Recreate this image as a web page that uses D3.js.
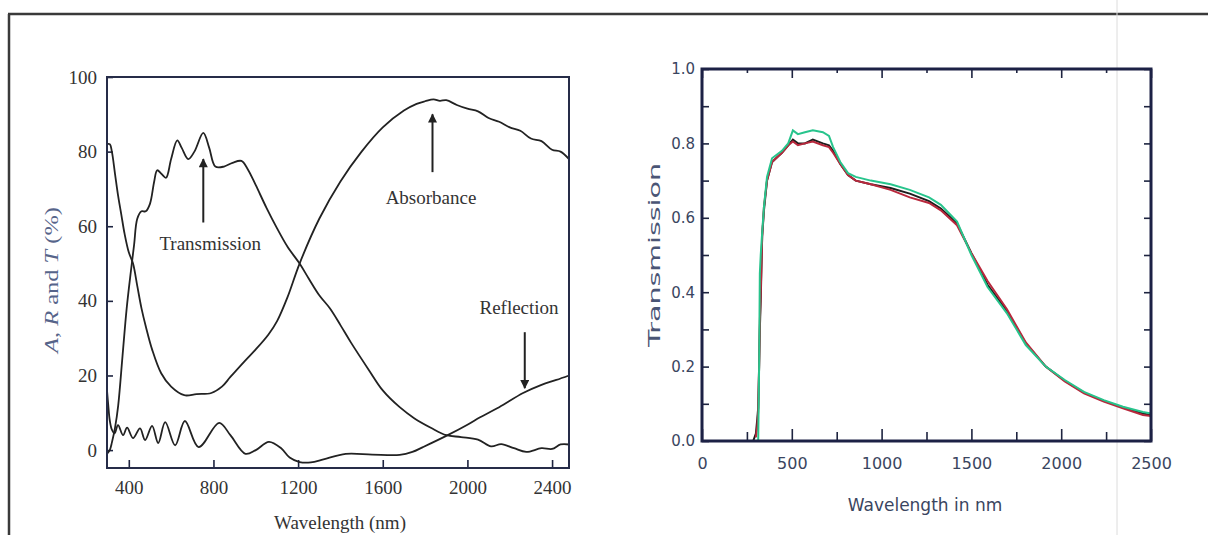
<!DOCTYPE html>
<html>
<head>
<meta charset="utf-8">
<script src="https://cdn.jsdelivr.net/npm/d3@7"></script>
<style>
body { margin: 0; background: #fff; }
svg { display: block; }
</style>
</head>
<body>
<svg id="chart" width="1208" height="535"></svg>
<script>
// left panel: A, R and T (%) against wavelength (nm)
const absWave = [297, 310, 320, 335, 350, 365, 380, 400, 420, 440, 460, 481, 510, 553, 600, 662, 720, 790, 840, 880, 950, 1000, 1060, 1100, 1150, 1207, 1300, 1400, 1500, 1600, 1700, 1760, 1800, 1840, 1870, 1900, 1950, 2000, 2050, 2100, 2150, 2200, 2250, 2300, 2350, 2400, 2440, 2480];
const absVal = [82, 82, 80, 74, 68, 63, 58, 53, 50, 44, 38, 33, 27, 20.6, 17, 14.7, 15, 15.3, 17, 19.6, 24, 27, 31, 34.5, 41, 50, 62, 72, 80, 86.5, 91, 92.8, 93.5, 94, 93.6, 93.8, 92.5, 91.5, 90.8, 89, 88, 86.5, 85.6, 83.5, 82.8, 80.5, 80, 78];

const transWave = [297, 310, 320, 335, 350, 370, 390, 410, 425, 440, 460, 480, 500, 520, 534, 555, 576, 600, 629, 650, 681, 710, 752, 780, 809, 850, 890, 932, 960, 1000, 1050, 1100, 1150, 1207, 1250, 1300, 1350, 1400, 1450, 1534, 1600, 1680, 1750, 1827, 1900, 1970, 2050, 2112, 2160, 2220, 2278, 2350, 2400, 2440, 2480];
const transVal = [-1, 0, 2, 6, 12, 25, 38, 48, 55, 62, 64, 64, 66, 72, 75, 74, 73, 78, 83, 81, 78, 80, 85, 81, 76, 76, 77, 77.5, 75.5, 71, 65, 59.5, 54.5, 50, 46, 41.5, 38, 33.5, 28.8, 21.5, 16, 11.5, 8.5, 6, 4, 3.5, 2.8, 1, 1.6, 0.5, -0.5, 0.5, 0.3, 1.5, 1.5];

const reflWave = [297, 303, 310, 320, 333, 349, 373, 392, 420, 453, 477, 510, 539, 572, 619, 665, 730, 827, 880, 951, 1000, 1062, 1120, 1160, 1207, 1260, 1320, 1425, 1550, 1680, 1740, 1790, 1900, 2000, 2060, 2150, 2263, 2350, 2420, 2480];
const reflVal = [16, 12, 8, 5.5, 4.5, 6.7, 4, 6, 3.2, 5.8, 2.7, 6.5, 1.9, 7.5, 1.3, 7.8, 0.8, 7.3, 4, -1, 0, 2.2, 0.5, -2, -3.2, -3.3, -2.5, -1, -1.2, -1.3, -0.5, 0.8, 3.8, 6.8, 8.8, 11.5, 15.3, 17.5, 18.8, 20];

const leftXTicks = [400, 800, 1200, 1600, 2000, 2400];
const leftYTicks = [0, 20, 40, 60, 80, 100];

// annotation: label, label position (nm, %), arrow nm, arrow from / to (%)
const notes = [
    { text: 'Transmission', nm: 785, v: 53.5, arrowNm: 752, from: 61, to: 78 },
    { text: 'Absorbance', nm: 1828, v: 66, arrowNm: 1835, from: 74.5, to: 90 },
    { text: 'Reflection', nm: 2244, v: 36.5, arrowNm: 2271, from: 31.6, to: 16.6 }
];

// right panel: transmission of three samples
const specWave = [250, 285, 300, 308, 313, 318, 322, 327, 335, 345, 362, 390, 445, 480, 506, 534, 573, 617, 673, 707, 730, 770, 813, 856, 940, 1050, 1157, 1264, 1330, 1420, 1500, 1590, 1697, 1803, 1914, 2020, 2127, 2237, 2344, 2455, 2500];
const specBlack = [0, 0, 0.02, 0.06, 0.09, 0.2, 0.3, 0.38, 0.55, 0.62, 0.70, 0.75, 0.775, 0.795, 0.81, 0.80, 0.80, 0.81, 0.80, 0.795, 0.78, 0.745, 0.715, 0.70, 0.69, 0.68, 0.665, 0.645, 0.625, 0.585, 0.505, 0.42, 0.35, 0.262, 0.2, 0.162, 0.13, 0.108, 0.09, 0.074, 0.07];
const specRed = [null, null, 0.01, 0.04, 0.08, 0.2, 0.32, 0.4, 0.55, 0.63, 0.70, 0.75, 0.775, 0.795, 0.805, 0.795, 0.80, 0.805, 0.795, 0.79, 0.775, 0.745, 0.715, 0.70, 0.69, 0.675, 0.655, 0.64, 0.62, 0.58, 0.505, 0.43, 0.355, 0.265, 0.2, 0.16, 0.128, 0.106, 0.088, 0.07, 0.067];
const specGreen = [null, null, null, null, 0, 0.2, 0.45, 0.5, 0.56, 0.63, 0.71, 0.76, 0.78, 0.80, 0.835, 0.825, 0.83, 0.835, 0.83, 0.82, 0.79, 0.75, 0.72, 0.71, 0.70, 0.69, 0.675, 0.655, 0.635, 0.59, 0.5, 0.414, 0.344, 0.258, 0.2, 0.164, 0.132, 0.11, 0.092, 0.078, 0.074];

const rightXTicks = [0, 500, 1000, 1500, 2000, 2500];
const rightXMinor = [250, 750, 1250, 1750, 2250];
const rightYTicks = [0, 0.1, 0.2, 0.3, 0.4, 0.5, 0.6, 0.7, 0.8, 0.9, 1.0];

const serif = '"Liberation Serif", "DejaVu Serif", serif';
const sans = '"DejaVu Sans", Verdana, sans-serif';

const svg = d3.select('#chart');

// page frame
svg.append('line').attr('x1', 8).attr('x2', 1208).attr('y1', 14).attr('y2', 14)
    .attr('stroke', '#3a3a3a').attr('stroke-width', 2.5);
svg.append('line').attr('x1', 9).attr('x2', 9).attr('y1', 14).attr('y2', 535)
    .attr('stroke', '#3a3a3a').attr('stroke-width', 2.5);
svg.append('line').attr('x1', 1117).attr('x2', 1117).attr('y1', 0).attr('y2', 535)
    .attr('stroke', '#dcdcdc').attr('stroke-width', 1);

svg.append('defs').append('marker')
    .attr('id', 'arrow')
    .attr('viewBox', '0 0 10 10')
    .attr('refX', 9).attr('refY', 5)
    .attr('markerWidth', 5).attr('markerHeight', 4.5)
    .attr('markerUnits', 'strokeWidth')
    .attr('orient', 'auto')
    .append('path')
    .attr('d', 'M0,0 L10,5 L0,10 Z')
    .attr('fill', '#222');

function styleAxis(g, font, size, color) {
    g.select('.domain').remove();
    g.selectAll('.tick line').attr('stroke', '#1e2440').attr('stroke-width', 1.6);
    g.selectAll('.tick text')
        .attr('font-family', font)
        .attr('font-size', size)
        .attr('fill', color);
}

function drawLeft() {
    const x = d3.scaleLinear().domain([297, 2480]).range([107, 569]);
    const y = d3.scaleLinear().domain([-4.8, 100]).range([468, 77]);
    const g = svg.append('g');

    g.append('g')
        .attr('transform', 'translate(107,0)')
        .call(d3.axisLeft(y).tickValues(leftYTicks).tickSize(-6).tickPadding(10).tickFormat(d3.format('d')))
        .call(styleAxis, serif, 19, '#333');

    g.append('g')
        .attr('transform', 'translate(0,468)')
        .call(d3.axisBottom(x).tickValues(leftXTicks).tickSize(-8).tickPadding(13).tickFormat(d3.format('d')))
        .call(styleAxis, serif, 19, '#333');

    const line = d3.line()
        .x(d => x(d[0]))
        .y(d => y(d[1]))
        .curve(d3.curveCatmullRom.alpha(0.5));

    const series = [
        d3.zip(absWave, absVal),
        d3.zip(transWave, transVal),
        d3.zip(reflWave, reflVal)
    ];
    g.selectAll('path.curve')
        .data(series)
        .join('path')
        .attr('class', 'curve')
        .attr('d', line)
        .attr('fill', 'none')
        .attr('stroke', '#222')
        .attr('stroke-width', 1.8);

    g.append('rect')
        .attr('x', 107).attr('y', 77)
        .attr('width', 462).attr('height', 391)
        .attr('fill', 'none')
        .attr('stroke', '#262c48')
        .attr('stroke-width', 2);

    notes.forEach(n => {
        g.append('text')
            .attr('x', x(n.nm)).attr('y', y(n.v))
            .attr('text-anchor', 'middle')
            .attr('font-family', serif)
            .attr('font-size', 19)
            .attr('fill', '#333')
            .text(n.text);
        g.append('line')
            .attr('x1', x(n.arrowNm)).attr('x2', x(n.arrowNm))
            .attr('y1', y(n.from)).attr('y2', y(n.to))
            .attr('stroke', '#222')
            .attr('stroke-width', 2)
            .attr('marker-end', 'url(#arrow)');
    });

    g.append('text')
        .attr('transform', 'translate(58,280) rotate(-90)')
        .attr('text-anchor', 'middle')
        .attr('font-family', serif)
        .attr('font-size', 18)
        .attr('fill', '#56648a')
        .attr('textLength', 146)
        .attr('lengthAdjust', 'spacingAndGlyphs')
        .html('<tspan font-style="italic">A</tspan>, <tspan font-style="italic">R</tspan> and <tspan font-style="italic">T</tspan> (%)');

    g.append('text')
        .attr('x', 340).attr('y', 529)
        .attr('text-anchor', 'middle')
        .attr('font-family', serif)
        .attr('font-size', 19)
        .attr('fill', '#333')
        .text('Wavelength (nm)');
}

function drawRight() {
    const x = d3.scaleLinear().domain([0, 2500]).range([702, 1151]);
    const y = d3.scaleLinear().domain([0, 1]).range([441, 69]);
    const g = svg.append('g');
    const fmt = d3.format('.1f');

    g.append('g')
        .attr('transform', 'translate(702,0)')
        .call(d3.axisLeft(y).tickValues(rightYTicks).tickSize(-7).tickPadding(7)
            .tickFormat((d, i) => i % 2 === 0 ? fmt(d) : ''))
        .call(styleAxis, sans, 15, '#3a4560');

    g.append('g')
        .attr('transform', 'translate(1151,0)')
        .call(d3.axisRight(y).tickValues(rightYTicks).tickSize(-7).tickFormat(''))
        .call(styleAxis, sans, 15, '#3a4560');

    g.append('g')
        .attr('transform', 'translate(0,441)')
        .call(d3.axisBottom(x).tickValues(rightXTicks).tickSize(-12).tickPadding(17).tickFormat(d3.format('d')))
        .call(styleAxis, sans, 16, '#3a4560');

    g.append('g')
        .attr('transform', 'translate(0,441)')
        .call(d3.axisBottom(x).tickValues(rightXMinor).tickSize(-9).tickFormat(''))
        .call(styleAxis, sans, 16, '#3a4560');

    g.append('g')
        .attr('transform', 'translate(0,69)')
        .call(d3.axisTop(x).tickValues(rightXTicks).tickSize(-9).tickFormat(''))
        .call(styleAxis, sans, 16, '#3a4560');

    g.append('g')
        .attr('transform', 'translate(0,69)')
        .call(d3.axisTop(x).tickValues(rightXMinor).tickSize(-4).tickFormat(''))
        .call(styleAxis, sans, 16, '#3a4560');

    const line = d3.line()
        .defined(d => d[1] != null)
        .x(d => x(d[0]))
        .y(d => y(d[1]));

    const series = [
        { values: specBlack, color: '#1d1d1d' },
        { values: specRed, color: '#b8283c' },
        { values: specGreen, color: '#27c48c' }
    ];
    g.selectAll('path.curve')
        .data(series)
        .join('path')
        .attr('class', 'curve')
        .attr('d', d => line(d3.zip(specWave, d.values)))
        .attr('fill', 'none')
        .attr('stroke', d => d.color)
        .attr('stroke-width', 2);

    g.append('rect')
        .attr('x', 702).attr('y', 69)
        .attr('width', 449).attr('height', 372)
        .attr('fill', 'none')
        .attr('stroke', '#1c2145')
        .attr('stroke-width', 3);

    g.append('text')
        .attr('transform', 'translate(660,255) rotate(-90)')
        .attr('text-anchor', 'middle')
        .attr('font-family', sans)
        .attr('font-size', 16)
        .attr('fill', '#4a5575')
        .attr('textLength', 184)
        .attr('lengthAdjust', 'spacingAndGlyphs')
        .text('Transmission');

    g.append('text')
        .attr('x', 925).attr('y', 511)
        .attr('text-anchor', 'middle')
        .attr('font-family', sans)
        .attr('font-size', 17)
        .attr('fill', '#3a4560')
        .text('Wavelength in nm');
}

drawLeft();
drawRight();
</script>
</body>
</html>
